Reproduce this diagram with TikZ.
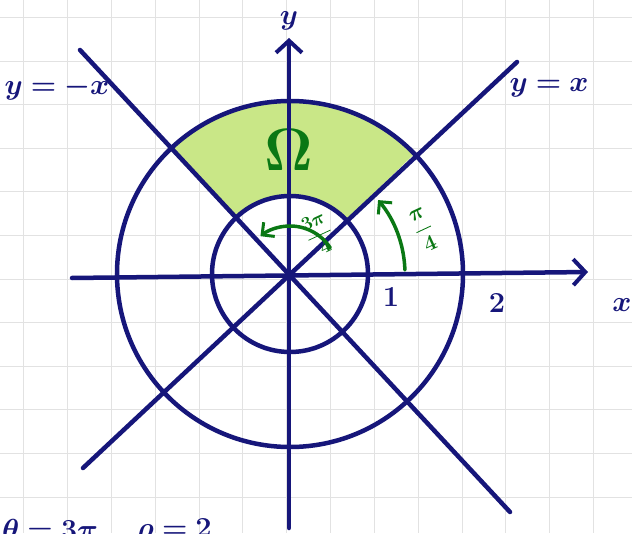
\RequirePackage{fix-cm}
\documentclass[tikz,border=0pt]{standalone}
\usepackage{amsmath, amssymb, bm}
\usetikzlibrary{arrows.meta}

\definecolor{navyink}{RGB}{22,22,122}
\definecolor{greenink}{RGB}{10,120,20}
\definecolor{regionfill}{RGB}{201,231,135}
\definecolor{gridline}{RGB}{226,226,226}

\tikzset{
  axis/.style={navyink, line width=4.5pt, line cap=round},
  pen/.style={greenink, line width=3.5pt, line cap=round},
  ink/.style={navyink, inner sep=0pt, font=\fontsize{29}{31}\selectfont},
  greenlabel/.style={greenink, inner sep=0pt},
  barb/.style={-{Straight Barb[length=12pt, width=26pt, line width=4pt]}},
  smallbarb/.style={-{Straight Barb[length=9pt, width=18pt, line width=3pt]}},
}

\begin{document}
\begin{tikzpicture}[x=1pt, y=1pt]
    \useasboundingbox (-290,-259) rectangle (342,274);
    \clip (-290,-259) rectangle (342,274);
    \fill[white] (-290,-259) rectangle (342,274);

    % Draw grid
    \foreach \i in {0,...,14}
        \draw[gridline, line width=1pt] ({-266+43.8*\i},-259) -- ({-266+43.8*\i},274);
    \foreach \j in {0,...,12}
        \draw[gridline, line width=1pt] (-290,{256.5-43.6*\j}) -- (342,{256.5-43.6*\j});

    % Draw region
    \coordinate (O) at (0,0);
    \fill[regionfill] (44:173) arc (44:134:173) -- (134:78) arc (134:44:78) -- cycle;
    \node[greenlabel, font=\fontsize{60}{60}\selectfont] (omega) at (-1,124) {$\boldsymbol{\Omega}$};

    % Draw circles
    \draw[axis] (O) circle[radius=78];
    \draw[axis] (O) circle[radius=173];

    % Draw lines
    \coordinate (d1a) at (-207,-194);
    \coordinate (d1b) at (227,212);
    \coordinate (d2a) at (-210,224);
    \coordinate (d2b) at (220,-238);
    \draw[axis] (d1a) -- (d1b);
    \draw[axis] (d2a) -- (d2b);

    % Draw axes
    \coordinate (xl) at (-218,-4);
    \coordinate (xr) at (298,2);
    \coordinate (yb) at (-1,-254);
    \coordinate (yt) at (-1,236);
    \draw[axis, barb] (xl) -- (xr);
    \draw[axis, barb] (yb) -- (yt);

    % Labels
    \node[ink] (ylab) at (-1,253) {$\boldsymbol{y}$};
    \node[ink] (xlab) at (332,-31) {$\boldsymbol{x}$};
    \node[ink] (one) at (101,-23) {$\mathbf{1}$};
    \node[ink] (two) at (207,-29) {$\mathbf{2}$};
    \node[ink] (yx) at (259,186) {$\boldsymbol{y=x}$};
    \node[ink] (ymx) at (-233,186) {$\boldsymbol{y=-x}$};
    \node[ink, anchor=north west] (theta) at (-288,-245) {$\boldsymbol{\theta=3\pi}$};
    \node[ink, anchor=north] (rho) at (-116,-245) {$\boldsymbol{\rho=2}$};

    % Angles
    \draw[pen, smallbarb] (2:115) arc (2:40:115);
    \draw[pen, smallbarb] (33:48) arc (33:128:48);
    \node[greenlabel, font=\fontsize{22}{24}\selectfont, rotate=25] (quarter) at (134,44) {$\boldsymbol{\dfrac{\pi}{4}}$};
    \node[greenlabel, font=\fontsize{19}{21}\selectfont, rotate=25] (threequarter) at (29,40) {$\boldsymbol{\dfrac{3\pi}{4}}$};
\end{tikzpicture}
\end{document}
